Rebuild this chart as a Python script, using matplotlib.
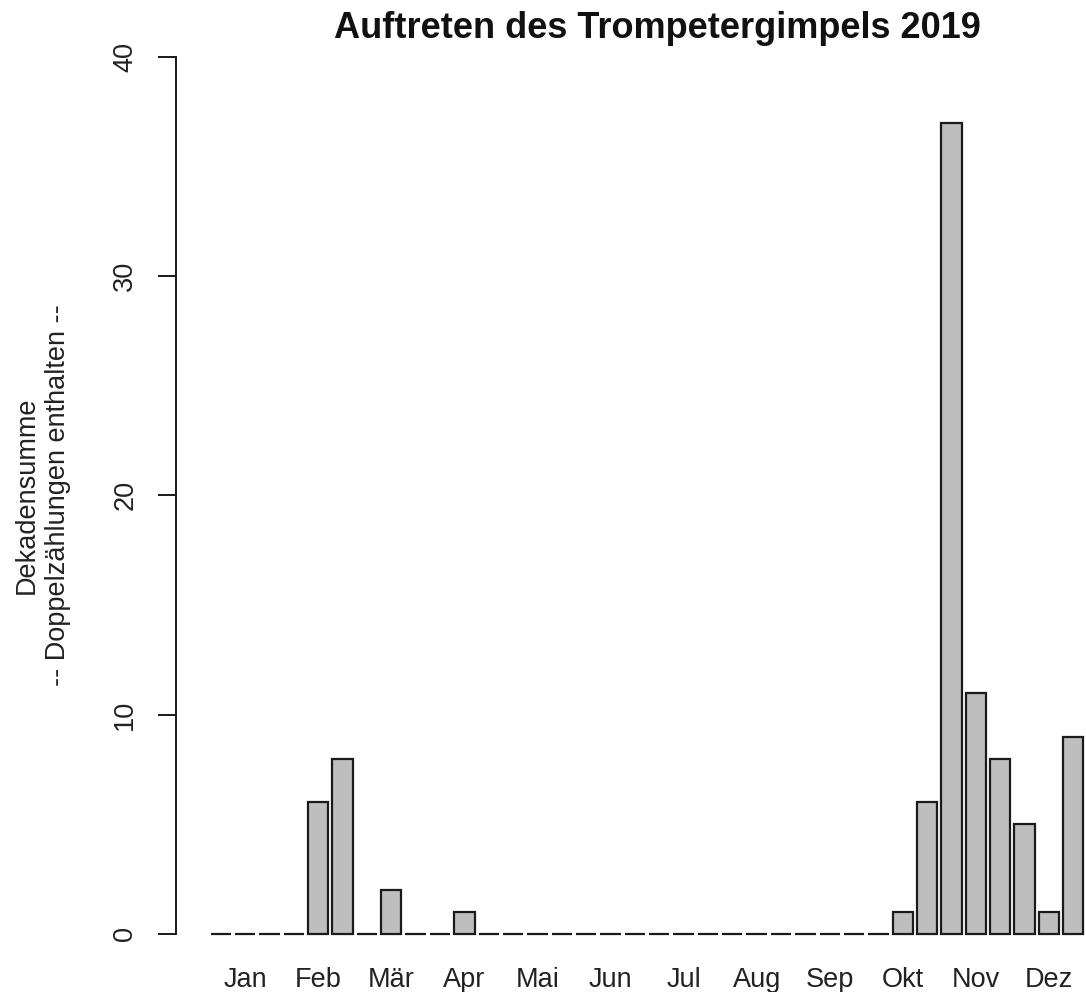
import matplotlib.pyplot as plt
import matplotlib.transforms as mtransforms
import numpy as np

plt.rcParams['font.family'] = ['Liberation Sans', 'DejaVu Sans']

months = ["Jan", "Feb", "Mär", "Apr", "Mai", "Jun",
          "Jul", "Aug", "Sep", "Okt", "Nov", "Dez"]

# three decades (10-day periods) per month
counts = [0, 0, 0,
          0, 6, 8,
          0, 2, 0,
          0, 1, 0,
          0, 0, 0,
          0, 0, 0,
          0, 0, 0,
          0, 0, 0,
          0, 0, 0,
          0, 1, 6,
          37, 11, 8,
          5, 1, 9]

title = "Auftreten des Trompetergimpels 2019"
ylabel1 = "Dekadensumme"
ylabel2 = "-- Doppelzählungen enthalten --"

W, H = 1086, 992
fig = plt.figure(figsize=(W / 100, H / 100), dpi=100)
ax = fig.add_axes([0.1618, 0.0231, 0.868, 0.955])

n = len(counts)
left = 0.2 + 1.2 * np.arange(n)
ax.bar(left, counts, width=1.0, align="edge", color="#bebebe",
       edgecolor="#1a1a1a", linewidth=1.6)

xmin, xmax = left[0], left[-1] + 1.0
ext = 0.04 * (xmax - xmin)
ax.set_xlim(xmin - ext, xmax + ext)
ax.set_ylim(-1.6, 41.6)

# month names under the middle decade of each month
centers = left[1::3] + 0.5
ax.set_xticks([])
trans = mtransforms.blended_transform_factory(ax.transData, fig.transFigure)
for c, m in zip(centers, months):
    ax.text(c, 1 - 987 / H, m, transform=trans, ha="center", va="baseline",
            fontsize=19.5, color="#222222")

ax.set_yticks([0, 10, 20, 30, 40])
ax.set_yticklabels(["0", "10", "20", "30", "40"], rotation=90, va="center",
                   fontsize=19.5, color="#222222")
ax.tick_params(axis="y", length=13, width=1.4, pad=14, color="#1a1a1a")

for s in ["top", "right", "bottom"]:
    ax.spines[s].set_visible(False)
ax.spines["left"].set_bounds(0, 40)
ax.spines["left"].set_linewidth(1.4)
ax.spines["left"].set_color("#1a1a1a")

fig.text(657 / W, 1 - 29 / H, title,
         ha="center", va="center", fontsize=26, fontweight="bold",
         color="#111111")

ymid = 1 - 495 / H
fig.text(27 / W, ymid, ylabel1, rotation=90, ha="center", va="center",
         fontsize=19.5, color="#222222")
fig.text(58 / W, ymid, ylabel2, rotation=90, ha="center", va="center",
         fontsize=19.5, color="#222222")

fig.savefig("out.png", dpi=100)
